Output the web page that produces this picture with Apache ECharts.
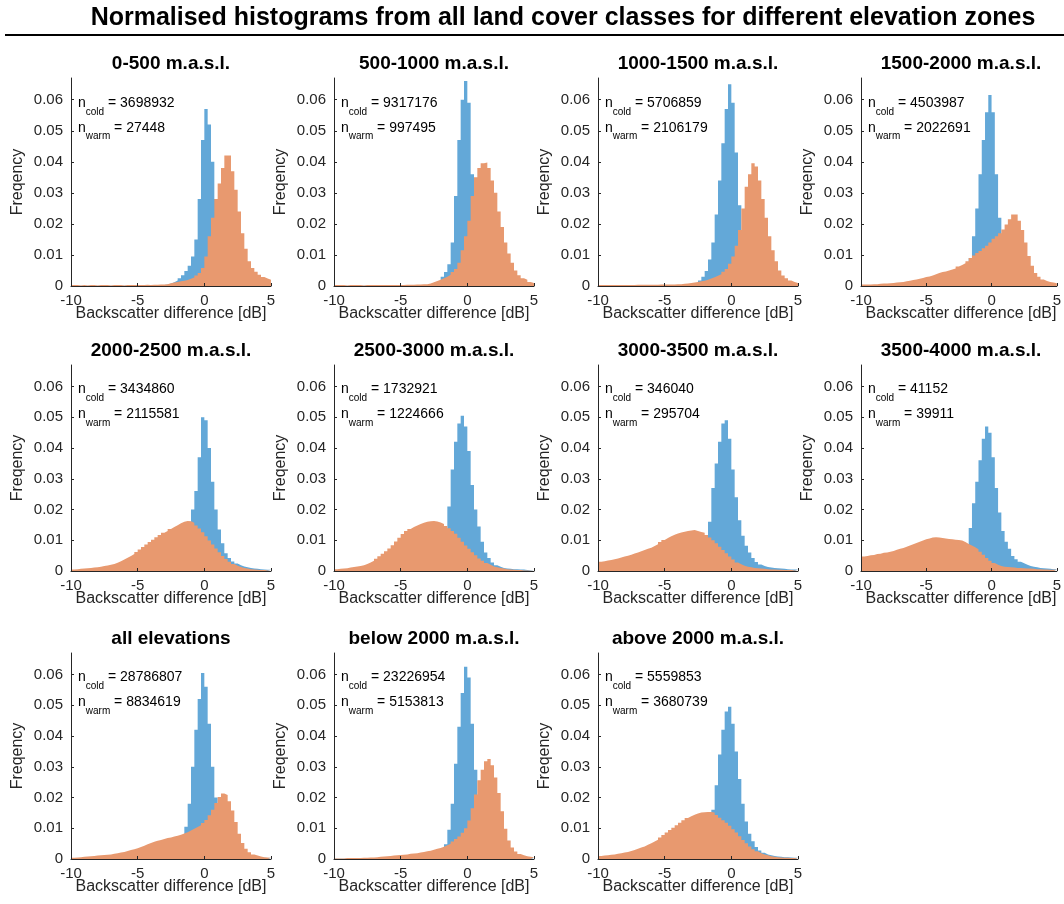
<!DOCTYPE html>
<html>
<head>
<meta charset="utf-8">
<script src="https://cdn.jsdelivr.net/npm/echarts@6/dist/echarts.min.js"></script>
<style>
  html, body { margin: 0; padding: 0; background: #fff; }
  #chart { width: 1064px; height: 904px; }
</style>
</head>
<body>
<div id="chart"></div>
<script>
// ---- data, bins of 0.25 dB from -10 to 5 ----
const panelTitles = ["0-500 m.a.s.l.", "500-1000 m.a.s.l.", "1000-1500 m.a.s.l.", "1500-2000 m.a.s.l.",
  "2000-2500 m.a.s.l.", "2500-3000 m.a.s.l.", "3000-3500 m.a.s.l.", "3500-4000 m.a.s.l.",
  "all elevations", "below 2000 m.a.s.l.", "above 2000 m.a.s.l."];
const nCold = [3698932, 9317176, 5706859, 4503987, 3434860, 1732921, 346040, 41152, 28786807, 23226954, 5559853];
const nWarm = [27448, 997495, 2106179, 2022691, 2115581, 1224666, 295704, 39911, 8834619, 5153813, 3680739];
const xTicks = [-10, -5, 0, 5];
const yTicks = [0, 0.01, 0.02, 0.03, 0.04, 0.05, 0.06];
const binStart = -10, binWidth = 0.25;

const cold0 = [
  0.0001,0.0001,0.0001,0.0001,0.0001,0.0001,0.0001,0.0001,0.0001,0.0001,
  0.0001,0.0001,0.0001,0.0001,0.0001,0.0001,0.0001,0.0001,0.0001,0.0001,
  0.0001,0.0001,0.0001,0.0001,0.0002,0.0002,0.0003,0.0003,0.0005,0.0008,
  0.0012,0.0018,0.0025,0.0035,0.0048,0.0065,0.0095,0.015,0.028,0.047,
  0.057,0.052,0.040,0.028,0.018,0.011,0.007,0.0045,0.003,0.002,
  0.0014,0.001,0.0008,0.0006,0.0005,0.0004,0.0003,0.0003,0.0002,0.0002];
const warm0 = [
  0.0003,0.0003,0.0002,0.0003,0.0002,0.0003,0.0003,0.0002,0.0003,0.0003,
  0.0003,0.0002,0.0003,0.0003,0.0003,0.0002,0.0003,0.0003,0.0003,0.0003,
  0.0003,0.0003,0.0004,0.0003,0.0004,0.0004,0.0005,0.0005,0.0006,0.0009,
  0.0011,0.0013,0.0015,0.0017,0.0019,0.0023,0.0027,0.0034,0.0042,0.0058,
  0.0095,0.016,0.022,0.028,0.033,0.038,0.042,0.042,0.037,0.031,
  0.024,0.017,0.012,0.008,0.0058,0.0046,0.0036,0.0029,0.0024,0.002];

const cold1 = [
  0.0001,0.0001,0.0001,0.0001,0.0001,0.0001,0.0001,0.0001,0.0001,0.0001,
  0.0001,0.0001,0.0001,0.0001,0.0001,0.0001,0.0001,0.0001,0.0001,0.0001,
  0.0001,0.0001,0.0001,0.0001,0.0001,0.0002,0.0002,0.0003,0.0005,0.0008,
  0.0012,0.0018,0.003,0.0045,0.007,0.014,0.029,0.047,0.060,0.066,
  0.059,0.036,0.020,0.011,0.0065,0.004,0.0028,0.002,0.0015,0.0012,
  0.001,0.0008,0.0007,0.0006,0.0005,0.0004,0.0004,0.0003,0.0003,0.0003];
const warm1 = [
  0.0003,0.0003,0.0003,0.0002,0.0003,0.0003,0.0003,0.0003,0.0002,0.0003,
  0.0003,0.0003,0.0003,0.0003,0.0003,0.0003,0.0003,0.0003,0.0003,0.0003,
  0.0003,0.0004,0.0004,0.0004,0.0005,0.0005,0.0006,0.0006,0.0008,0.0012,
  0.0016,0.002,0.0025,0.003,0.0036,0.0045,0.0055,0.0075,0.0115,0.016,
  0.021,0.029,0.035,0.038,0.0395,0.0398,0.038,0.034,0.030,0.024,
  0.019,0.014,0.0105,0.0075,0.005,0.0035,0.0025,0.002,0.0013,0.001];

const cold2 = [
  0.0001,0.0001,0.0001,0.0001,0.0001,0.0001,0.0001,0.0001,0.0001,0.0001,
  0.0001,0.0001,0.0001,0.0001,0.0001,0.0001,0.0001,0.0001,0.0001,0.0001,
  0.0001,0.0001,0.0001,0.0001,0.0001,0.0002,0.0002,0.0003,0.0006,0.001,
  0.0018,0.003,0.0048,0.0085,0.014,0.023,0.034,0.046,0.057,0.065,
  0.059,0.043,0.026,0.016,0.010,0.0065,0.0045,0.003,0.0022,0.0016,
  0.0012,0.001,0.0008,0.0007,0.0006,0.0005,0.0004,0.0004,0.0003,0.0003];
const warm2 = [
  0.0003,0.0003,0.0003,0.0003,0.0003,0.0003,0.0003,0.0003,0.0003,0.0003,
  0.0003,0.0004,0.0004,0.0004,0.0004,0.0004,0.0004,0.0004,0.0005,0.0005,
  0.0005,0.0005,0.0005,0.0006,0.0006,0.0007,0.0008,0.001,0.0011,0.0013,
  0.0015,0.0017,0.002,0.0024,0.0028,0.0033,0.0038,0.0046,0.0055,0.0072,
  0.0095,0.013,0.018,0.025,0.032,0.036,0.0395,0.0385,0.034,0.028,
  0.022,0.016,0.0115,0.008,0.005,0.0034,0.0025,0.0018,0.0013,0.001];

const cold3 = [
  0.0001,0.0001,0.0001,0.0001,0.0001,0.0001,0.0001,0.0001,0.0001,0.0001,
  0.0001,0.0001,0.0001,0.0001,0.0001,0.0001,0.0001,0.0001,0.0001,0.0001,
  0.0001,0.0001,0.0001,0.0001,0.0001,0.0001,0.0002,0.0002,0.0004,0.0008,
  0.0015,0.0028,0.005,0.009,0.016,0.025,0.036,0.047,0.056,0.0615,
  0.056,0.036,0.022,0.013,0.008,0.005,0.0035,0.0025,0.0018,0.0014,
  0.0011,0.0009,0.0008,0.0007,0.0006,0.0005,0.0005,0.0004,0.0004,0.0003];
const warm3 = [
  0.0005,0.0005,0.0005,0.0006,0.0006,0.0007,0.0008,0.0008,0.0009,0.001,
  0.0011,0.0012,0.0013,0.0015,0.0017,0.0019,0.0021,0.0023,0.0026,0.0029,
  0.0031,0.0034,0.0038,0.0042,0.0045,0.0047,0.005,0.0053,0.0056,0.0063,
  0.0068,0.0073,0.008,0.009,0.0098,0.0106,0.0113,0.0122,0.013,0.014,
  0.0152,0.016,0.017,0.0182,0.0198,0.0215,0.023,0.023,0.021,0.018,
  0.014,0.0097,0.0065,0.0042,0.003,0.0021,0.0016,0.0013,0.0011,0.0009];

const cold4 = [
  0.0001,0.0001,0.0001,0.0001,0.0001,0.0001,0.0001,0.0001,0.0001,0.0001,
  0.0001,0.0001,0.0001,0.0001,0.0001,0.0001,0.0001,0.0001,0.0001,0.0001,
  0.0001,0.0001,0.0001,0.0002,0.0002,0.0003,0.0003,0.0004,0.0008,0.0012,
  0.002,0.003,0.0045,0.007,0.011,0.016,0.020,0.026,0.037,0.050,
  0.049,0.040,0.029,0.020,0.0135,0.009,0.0058,0.0042,0.0031,0.0024,
  0.0019,0.0015,0.0012,0.001,0.0008,0.0007,0.0006,0.0005,0.0004,0.0004];
const warm4 = [
  0.0005,0.0006,0.0007,0.0008,0.0009,0.001,0.0011,0.0012,0.0014,0.0016,
  0.0018,0.002,0.0023,0.0027,0.0032,0.0037,0.0043,0.0049,0.0055,0.0062,
  0.007,0.0078,0.0086,0.0094,0.0102,0.011,0.0117,0.0124,0.013,0.0137,
  0.0143,0.0149,0.0155,0.016,0.0163,0.0162,0.0157,0.0148,0.0138,0.0126,
  0.0113,0.0099,0.0086,0.0073,0.0061,0.0049,0.0039,0.003,0.0023,0.0017,
  0.0013,0.001,0.0008,0.0006,0.0005,0.0004,0.0003,0.0003,0.0002,0.0002];

const cold5 = [
  0.0001,0.0001,0.0001,0.0001,0.0001,0.0001,0.0001,0.0001,0.0001,0.0001,
  0.0001,0.0001,0.0001,0.0001,0.0001,0.0001,0.0001,0.0001,0.0001,0.0001,
  0.0001,0.0001,0.0001,0.0001,0.0002,0.0002,0.0003,0.0004,0.0006,0.001,
  0.0018,0.003,0.005,0.009,0.021,0.033,0.042,0.048,0.0505,0.047,
  0.039,0.028,0.020,0.0145,0.0095,0.006,0.0042,0.0028,0.0019,0.0014,
  0.001,0.0008,0.0007,0.0006,0.0006,0.0005,0.0005,0.0003,0.0002,0.0002];
const warm5 = [
  0.0006,0.0007,0.0008,0.0009,0.0011,0.0013,0.0015,0.0016,0.0019,0.0023,
  0.0028,0.0033,0.004,0.0048,0.0056,0.0064,0.0073,0.0084,0.0096,0.0108,
  0.012,0.013,0.0137,0.0143,0.0148,0.0153,0.0157,0.016,0.0162,0.0163,
  0.0161,0.0158,0.0153,0.0146,0.0139,0.013,0.0121,0.0108,0.0095,0.0083,
  0.0072,0.0061,0.0051,0.0041,0.0033,0.0026,0.002,0.0015,0.0012,0.001,
  0.0008,0.0006,0.0005,0.0004,0.0003,0.0003,0.0002,0.0002,0.0001,0.0001];

const cold6 = [
  0.0001,0.0001,0.0001,0.0001,0.0001,0.0001,0.0001,0.0001,0.0001,0.0001,
  0.0001,0.0001,0.0001,0.0001,0.0001,0.0001,0.0001,0.0001,0.0001,0.0001,
  0.0001,0.0001,0.0001,0.0002,0.0002,0.0003,0.0004,0.0005,0.0007,0.0012,
  0.002,0.004,0.008,0.016,0.027,0.035,0.042,0.048,0.049,0.043,
  0.033,0.024,0.0165,0.0115,0.0082,0.006,0.0042,0.0029,0.0021,0.0016,
  0.0013,0.0011,0.001,0.0009,0.0008,0.0007,0.0006,0.0005,0.0005,0.0005];
const warm6 = [
  0.003,0.0032,0.0034,0.0036,0.0038,0.0041,0.0044,0.0047,0.005,0.0053,
  0.0057,0.006,0.0064,0.0068,0.0072,0.0076,0.0081,0.0087,0.0094,0.0101,
  0.0107,0.0113,0.0118,0.0122,0.0125,0.0128,0.013,0.0132,0.0133,0.013,
  0.0127,0.0124,0.0117,0.0109,0.01,0.009,0.0079,0.0068,0.0058,0.0047,
  0.0037,0.0028,0.0022,0.0017,0.0014,0.0012,0.001,0.0009,0.0008,0.0007,
  0.0006,0.0005,0.0005,0.0004,0.0004,0.0003,0.0003,0.0003,0.0002,0.0002];

const cold7 = [
  0.0001,0.0001,0.0001,0.0001,0.0001,0.0001,0.0001,0.0001,0.0001,0.0001,
  0.0001,0.0001,0.0001,0.0001,0.0001,0.0001,0.0001,0.0001,0.0001,0.0001,
  0.0001,0.0001,0.0002,0.0002,0.0003,0.0003,0.0004,0.0005,0.0007,0.0012,
  0.002,0.004,0.007,0.014,0.022,0.029,0.036,0.043,0.047,0.045,
  0.037,0.027,0.019,0.013,0.0095,0.0072,0.0049,0.0038,0.003,0.0025,
  0.002,0.0016,0.0014,0.0012,0.001,0.0009,0.0008,0.0007,0.0006,0.0006];
const warm7 = [
  0.0047,0.0049,0.0051,0.0052,0.0055,0.0056,0.0059,0.006,0.0063,0.0065,
  0.0069,0.0072,0.0075,0.0079,0.0083,0.0087,0.0091,0.0095,0.0099,0.0103,
  0.0106,0.0109,0.011,0.0109,0.0107,0.0106,0.0104,0.0103,0.0102,0.0101,
  0.0099,0.0094,0.0088,0.0083,0.0077,0.0071,0.0063,0.0053,0.0042,0.0033,
  0.0026,0.002,0.0016,0.0014,0.0013,0.0012,0.0011,0.001,0.001,0.0009,
  0.0008,0.0008,0.0007,0.0006,0.0006,0.0005,0.0005,0.0004,0.0004,0.0004];

const cold8 = [
  0.0001,0.0001,0.0001,0.0001,0.0001,0.0001,0.0001,0.0001,0.0001,0.0001,
  0.0001,0.0001,0.0001,0.0001,0.0001,0.0001,0.0001,0.0001,0.0001,0.0001,
  0.0001,0.0001,0.0001,0.0001,0.0002,0.0002,0.0003,0.0003,0.0005,0.0008,
  0.0012,0.002,0.0035,0.006,0.0105,0.018,0.030,0.042,0.052,0.0605,
  0.056,0.044,0.030,0.020,0.013,0.008,0.005,0.0035,0.0025,0.0018,
  0.0013,0.001,0.0008,0.0007,0.0006,0.0005,0.0004,0.0004,0.0003,0.0003];
const warm8 = [
  0.0004,0.0005,0.0006,0.0007,0.0008,0.0009,0.001,0.0011,0.0012,0.0013,
  0.0014,0.0015,0.0017,0.0019,0.0021,0.0023,0.0026,0.0029,0.0032,0.0035,
  0.0039,0.0043,0.0048,0.0052,0.0056,0.0059,0.0062,0.0065,0.0068,0.007,
  0.0073,0.0076,0.0079,0.0083,0.0087,0.0093,0.0098,0.0104,0.011,0.0117,
  0.0127,0.0142,0.016,0.0182,0.0202,0.0213,0.0208,0.0188,0.0158,0.012,
  0.0082,0.0052,0.0033,0.0022,0.0015,0.0011,0.0008,0.0006,0.0005,0.0004];

const cold9 = [
  0.0001,0.0001,0.0001,0.0001,0.0001,0.0001,0.0001,0.0001,0.0001,0.0001,
  0.0001,0.0001,0.0001,0.0001,0.0001,0.0001,0.0001,0.0001,0.0001,0.0001,
  0.0001,0.0001,0.0001,0.0001,0.0001,0.0002,0.0002,0.0003,0.0004,0.0006,
  0.001,0.0017,0.0028,0.0048,0.0095,0.018,0.031,0.043,0.054,0.0625,
  0.059,0.044,0.029,0.018,0.011,0.0068,0.0045,0.003,0.0021,0.0015,
  0.0011,0.0009,0.0007,0.0006,0.0005,0.0005,0.0004,0.0004,0.0003,0.0003];
const warm9 = [
  0.0002,0.0002,0.0002,0.0003,0.0003,0.0003,0.0003,0.0003,0.0004,0.0004,
  0.0005,0.0005,0.0006,0.0007,0.0008,0.0009,0.001,0.0011,0.0012,0.0013,
  0.0014,0.0015,0.0017,0.0018,0.0019,0.0021,0.0023,0.0025,0.0027,0.003,
  0.0033,0.0036,0.004,0.0045,0.005,0.0057,0.0065,0.0073,0.0085,0.01,
  0.0125,0.0165,0.021,0.0256,0.029,0.0318,0.0325,0.0305,0.0265,0.0215,
  0.0155,0.0098,0.006,0.0037,0.0024,0.0016,0.0012,0.0009,0.0007,0.0006];

const cold10 = [
  0.0001,0.0001,0.0001,0.0001,0.0001,0.0001,0.0001,0.0001,0.0001,0.0001,
  0.0001,0.0001,0.0001,0.0001,0.0001,0.0001,0.0001,0.0001,0.0001,0.0001,
  0.0001,0.0001,0.0001,0.0002,0.0002,0.0003,0.0004,0.0005,0.0008,0.0012,
  0.002,0.0035,0.006,0.010,0.016,0.024,0.034,0.042,0.048,0.0495,
  0.044,0.035,0.026,0.018,0.0122,0.0082,0.0058,0.0039,0.0028,0.002,
  0.0015,0.0012,0.001,0.0008,0.0007,0.0006,0.0006,0.0005,0.0004,0.0004];
const warm10 = [
  0.001,0.0011,0.0012,0.0014,0.0015,0.0017,0.0019,0.0021,0.0023,0.0026,
  0.0029,0.0033,0.0037,0.0041,0.0046,0.0051,0.0057,0.0063,0.007,0.0078,
  0.0086,0.0094,0.0102,0.011,0.0118,0.0126,0.0133,0.0139,0.0144,0.0148,
  0.0151,0.0152,0.0153,0.0153,0.0151,0.0143,0.0134,0.0126,0.0118,0.0108,
  0.0097,0.0086,0.0074,0.0062,0.0051,0.0041,0.0032,0.0025,0.0019,0.0015,
  0.0012,0.0009,0.0007,0.0006,0.0005,0.0004,0.0004,0.0003,0.0003,0.0003];

const coldData = [cold0, cold1, cold2, cold3, cold4, cold5, cold6, cold7, cold8, cold9, cold10];
const warmData = [warm0, warm1, warm2, warm3, warm4, warm5, warm6, warm7, warm8, warm9, warm10];

// histogram outline: each bin's left edge with its value, closed at the last right edge
function histPoints(values) {
  const pts = values.map((v, i) => [binStart + binWidth * i, v]);
  pts.push([binStart + binWidth * values.length, values[values.length - 1]]);
  return pts;
}

// ---- layout ----
const FONT = "'Liberation Sans', Helvetica, Arial, sans-serif";
const TXT = "#262626";
const BLUE = "#63a8d8";
const ORANGE = "#e8996f";
const colLeft = [71, 334, 598, 861];
const rowBottom = [286, 571, 859];
const rowHeight = [208, 206, 206];
const plotW = 200;
const yMax = 0.067;

const grid = [], xAxis = [], yAxis = [], series = [];
const graphic = [
  {
    type: "text", x: 563, y: 18,
    style: { text: "Normalised histograms from all land cover classes for different elevation zones",
      font: "bold 25px " + FONT, fill: "#000", align: "center", verticalAlign: "middle" }
  },
  { type: "line", shape: { x1: 5, y1: 35, x2: 1064, y2: 35 }, style: { stroke: "#000", lineWidth: 2 } }
];

panelTitles.forEach((title, k) => {
  const col = k % 4, row = Math.floor(k / 4);
  const left = colLeft[col], bottom = rowBottom[row], h = rowHeight[row];
  const top = bottom - h;
  grid.push({ left: left, top: top, width: plotW, height: h });

  xAxis.push({
    type: "value", gridIndex: k, min: -10, max: 5, position: "bottom", z: 5,
    axisLine: { show: true, onZero: false, lineStyle: { color: TXT, width: 1 } },
    axisTick: { show: true, inside: true, length: 3, customValues: xTicks, lineStyle: { color: TXT } },
    axisLabel: { customValues: xTicks, color: TXT, fontFamily: FONT, fontSize: 15, margin: 7 },
    splitLine: { show: false }
  });
  yAxis.push({
    type: "value", gridIndex: k, min: 0, max: yMax, z: 5,
    axisLine: { show: true, onZero: false, lineStyle: { color: TXT, width: 1 } },
    axisTick: { show: true, inside: true, length: 3, customValues: yTicks, lineStyle: { color: TXT } },
    axisLabel: {
      customValues: yTicks, color: TXT, fontFamily: FONT, fontSize: 15, margin: 8,
      formatter: v => (v === 0 ? "0" : v.toFixed(2))
    },
    splitLine: { show: false }
  });

  // warm histogram is drawn over the cold one
  [["cold", coldData[k], BLUE, 2], ["warm", warmData[k], ORANGE, 3]].forEach(([name, vals, color, z]) => {
    series.push({
      name: name, type: "line", step: "end", xAxisIndex: k, yAxisIndex: k, z: z,
      data: histPoints(vals), symbol: "none", silent: true,
      lineStyle: { width: 0, opacity: 0 },
      areaStyle: { color: color, opacity: 1 }
    });
  });

  const cx = left + plotW / 2;
  graphic.push({
    type: "text", x: cx, y: top - 14,
    style: { text: title, font: "bold 19px " + FONT, fill: "#000", align: "center", verticalAlign: "middle" }
  });
  graphic.push({
    type: "text", x: left - 53, y: top + h / 2, rotation: Math.PI / 2,
    style: { text: "Freqency", font: "16px " + FONT, fill: TXT, align: "center", verticalAlign: "middle" }
  });
  graphic.push({
    type: "text", x: cx, y: bottom + 28,
    style: { text: "Backscatter difference [dB]", font: "16px " + FONT, fill: TXT, align: "center", verticalAlign: "middle" }
  });

  // n_cold / n_warm annotations
  const rich = {
    n: { fontSize: 14, fontFamily: FONT, color: "#000", lineHeight: 28 },
    s: { fontSize: 10, fontFamily: FONT, color: "#000", lineHeight: 12, verticalAlign: "bottom" },
    v: { fontSize: 14, fontFamily: FONT, color: "#000", lineHeight: 28 }
  };
  [["cold", nCold[k], 0.059], ["warm", nWarm[k], 0.051]].forEach(([sub, n, yv]) => {
    graphic.push({
      type: "text", x: left + 7, y: bottom - (yv / yMax) * h,
      style: { text: "{n|n}{s|" + sub + "}{v| = " + n + "}", rich: rich, align: "left", verticalAlign: "middle" }
    });
  });
});

const chart = echarts.init(document.getElementById("chart"));
chart.setOption({
  animation: false,
  backgroundColor: "#fff",
  grid: grid,
  xAxis: xAxis,
  yAxis: yAxis,
  series: series,
  graphic: graphic
});
</script>
</body>
</html>
